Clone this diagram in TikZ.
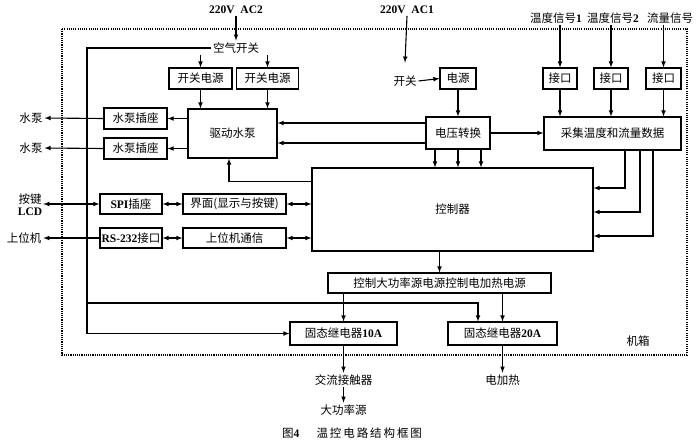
\documentclass[tikz,border=0pt]{standalone}
\usepackage{fontspec}
\setmainfont{Liberation Serif}
\newfontfamily\cjk{Noto Sans CJK SC}
\usepackage{tikz}
\usetikzlibrary {calc}
\newcommand{\en}[1]{{\rmfamily\bfseries #1}}

\begin{document}
\begin{tikzpicture}[x=1pt,y=-1pt,line width=1.1pt,
        every node/.style={font=\cjk\fontsize{11.5}{13}\selectfont,inner sep=1.5pt},
        box/.style={draw,minimum height=21pt,inner sep=0pt},
        jixiang/.style={line width=1.2pt,dash pattern=on 1.1pt off 1.1pt}]
            \useasboundingbox (0,0) rectangle (700,440);
            \draw[jixiang] (62,29) rectangle (687,355); %机箱
            % 电源部分
            \node (ac2) at (236,10) {\en{220V\ \ AC2}};
            \node (kqkg) at (236,48) {空气开关};
            \node[box,minimum width=63pt] (kg1) at (200.5,78.5) {开关电源};
            \node[box,minimum width=62pt] (kg2) at (267.5,78.5) {开关电源};
            \node[box,minimum width=89pt,minimum height=49pt] (qdsb) at (232.5,133.5) {驱动水泵};
            \node[box,minimum width=63pt] (cz1) at (135.5,118.5) {水泵插座};
            \node[box,minimum width=63pt] (cz2) at (135.5,148.5) {水泵插座};
            \node (sb1) at (31,118) {水泵};
            \node (sb2) at (31,148) {水泵};
            \node[box,minimum width=62pt,minimum height=20pt] (spi) at (131,204) {\en{SPI}插座};
            \node[box,minimum width=103pt,minimum height=20pt] (jm) at (234.5,204) {界面(显示与按键)};
            \node[box,minimum width=62pt,minimum height=20pt] (rs) at (131,238) {\en{RS-232}接口};
            \node[box,minimum width=103pt,minimum height=20pt] (sw) at (234.5,238) {上位机通信};
            \node[align=center,inner sep=0.5pt] (ajl) at (30,204.5) {按键\\[-1pt]\en{LCD}};
            \node (swj) at (24,238) {上位机};
            \node[box,minimum width=281pt,minimum height=83pt] (kzq) at (452.5,209.5) {控制器};
            \node (ac1) at (407,10) {\en{220V\ \ AC1}};
            \node (kg) at (405,81) {开关};
            \node[box,minimum width=36pt] (dy) at (458,78.5) {电源};
            \node[box,minimum width=64pt,minimum height=32pt] (dyzh) at (458,133) {电压转换};
            \node[box,minimum width=137pt,minimum height=33pt] (cj) at (612.5,133.5) {采集温度和流量数据};
            \node (xh1) at (556,18) {温度信号\en{1}};
            \node (xh2) at (613,18) {温度信号\en{2}};
            \node (xh3) at (670,18) {流量信号};
            \node[box,minimum width=34pt] (jk1) at (560,78.5) {接口};
            \node[box,minimum width=34pt] (jk2) at (611,78.5) {接口};
            \node[box,minimum width=35pt] (jk3) at (663.5,78.5) {接口};
            \node[box,minimum width=223pt,minimum height=20pt] (kzdgl) at (439.5,283) {控制大功率源电源控制电加热电源};
            \node[box,minimum width=107pt,minimum height=23pt] (gt10) at (343.5,333.5) {固态继电器\en{10A}};
            \node[box,minimum width=109pt,minimum height=23pt] (gt20) at (502.5,333.5) {固态继电器\en{20A}};
            \node (jx) at (638,341) {机箱};
            \node (jljcq) at (343.5,380) {交流接触器};
            \node (dgly) at (343.5,410) {大功率源};
            \node (djr) at (502.5,380) {电加热};
            \node (tm) at (352,433) {图\en{4}\hspace{1.5em}温\,控\,电\,路\,结\,构\,框\,图};
            \coordinate (zx) at (87,333.5);
            \coordinate (fz) at (87,303);
            % 连线
            \draw[-latex] (ac2.south) -- (kqkg.north);
            \draw[-latex] (kqkg.west) -| (zx) -- (gt10.west);
            \draw[-latex] (fz) -| ([xshift=-24.5pt]gt20.north);
            \draw[-latex] (kqkg.south -| kg1) -- (kg1.north);
            \draw[-latex] (kqkg.south -| kg2) -- (kg2.north);
            \draw[-latex] (kg1.south) -- (kg1.south |- qdsb.north);
            \draw[-latex] (kg2.south) -- (kg2.south |- qdsb.north);
            \draw[-latex] (qdsb.west |- cz1) -- (cz1.east);
            \draw[-latex] (qdsb.west |- cz2) -- (cz2.east);
            \draw[-latex] (cz1.west) -- (sb1.east);
            \draw[-latex] (cz2.west) -- (sb2.east);
            \draw[-latex] ([yshift=10pt]dyzh.west) -- ([yshift=10pt]dyzh.west -| qdsb.east);
            \draw[-latex] ([yshift=-10pt]dyzh.west) -- ([yshift=-10pt]dyzh.west -| qdsb.east);
            \draw[-latex] ([yshift=-14pt]kzq.north west) -| ([xshift=-3.5pt]qdsb.south);
            \draw[latex-latex] (spi.east) -- (jm.west);
            \draw[latex-latex] (rs.east) -- (sw.west);
            \draw[latex-latex] (jm.east) -- (jm.east -| kzq.west);
            \draw[latex-latex] (sw.east) -- (sw.east -| kzq.west);
            \draw[latex-latex] (spi.west) -- (spi.west -| ajl.east);
            \draw[-latex] (rs.west) -- (swj.east);
            \draw[-latex] (ac1.south) -- ([yshift=11pt]kg.north);
            \draw[-latex] (kg.east) -- (dy.west);
            \draw[-latex] (dy.south) -- (dyzh.north);
            \draw[-latex] (dyzh.east) -- (dyzh.east -| cj.west);
            \foreach \dx in {-23,0,23}
                \draw[-latex] ([xshift=\dx pt]dyzh.south) -- ([xshift=\dx pt]dyzh.south |- kzq.north);
            \foreach \i in {1,2,3}{
                \draw[-latex] (jk\i |- xh\i.south) -- (jk\i.north);
                \draw[-latex] (jk\i.south) -- (jk\i.south |- cj.north);
            }
            \draw[-latex] ([xshift=12.5pt]cj.south) |- ([yshift=21.5pt]kzq.east);
            \draw[-latex] ([xshift=27.5pt]cj.south) |- ([yshift=-2.5pt]kzq.east);
            \draw[-latex] ([xshift=40.5pt]cj.south) |- ([yshift=-26.5pt]kzq.east);
            \draw[-latex] (kzdgl.north |- kzq.south) -- (kzdgl.north);
            \draw[-latex] (kzdgl.south -| gt10) -- (gt10.north);
            \draw[-latex] (kzdgl.south -| gt20) -- (gt20.north);
            \draw[-latex] (gt10.south) -- (jljcq.north);
            \draw[-latex] (jljcq.south) -- (dgly.north);
            \draw[-latex] (gt20.south) -- (djr.north);
        \end{tikzpicture}
\end{document}
